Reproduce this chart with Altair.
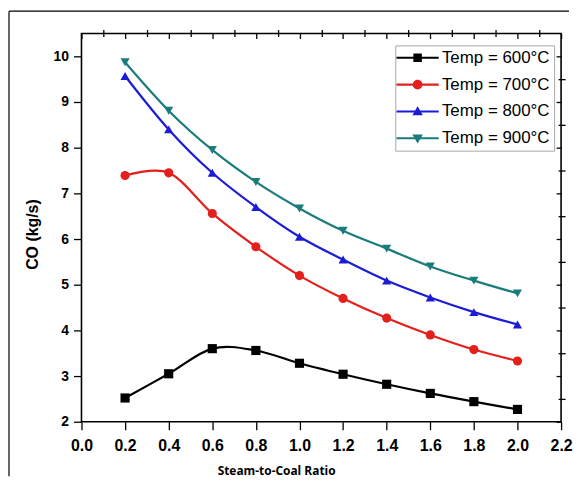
import altair as alt
import pandas as pd

ratio = [0.2, 0.4, 0.6, 0.8, 1.0, 1.2, 1.4, 1.6, 1.8, 2.0]
co_600 = [2.52, 3.05, 3.60, 3.56, 3.28, 3.04, 2.82, 2.62, 2.44, 2.27]
co_700 = [7.39, 7.45, 6.56, 5.83, 5.20, 4.70, 4.27, 3.90, 3.58, 3.33]
co_800 = [9.57, 8.40, 7.45, 6.70, 6.05, 5.55, 5.09, 4.72, 4.40, 4.13]
co_900 = [9.87, 8.81, 7.95, 7.25, 6.67, 6.18, 5.79, 5.40, 5.09, 4.81]
series = ["Temp = 600°C", "Temp = 700°C", "Temp = 800°C", "Temp = 900°C"]

x_major = [0.0, 0.2, 0.4, 0.6, 0.8, 1.0, 1.2, 1.4, 1.6, 1.8, 2.0, 2.2]
x_minor = [0.1, 0.3, 0.5, 0.7, 0.9, 1.1, 1.3, 1.5, 1.7, 1.9, 2.1]
y_major = [2, 3, 4, 5, 6, 7, 8, 9, 10]
y_minor = [2.5, 3.5, 4.5, 5.5, 6.5, 7.5, 8.5, 9.5]

rows = []
for name, vals in zip(series, [co_600, co_700, co_800, co_900]):
    for r, v in zip(ratio, vals):
        rows.append({"ratio": r, "co": v, "series": name})
df = pd.DataFrame(rows)

FONT = "Liberation Sans"
W, H = 483, 391
COLORS = ["#000000", "#e3201b", "#1c1cd6", "#1b7c7c"]
xscale = alt.Scale(domain=[0, 2.2], nice=False, zero=False)
yscale = alt.Scale(domain=[2, 10.5], nice=False, zero=False)
color_scale = alt.Scale(domain=series, range=COLORS)
shape_scale = alt.Scale(domain=series, range=["square", "circle", "triangle-up", "triangle-down"])

# legend symbols: a short line with the series marker on it
sym_paths = [
    "M-2.5,-0.12H2.5V0.12H-2.5ZM-0.5,-0.5H0.5V0.5H-0.5Z",
    "M-2.5,-0.12H2.5V0.12H-2.5ZM-0.58,0A0.58,0.58 0 1,1 0.58,0A0.58,0.58 0 1,1 -0.58,0Z",
    "M-2.5,-0.12H2.5V0.12H-2.5ZM0,-0.62L0.62,0.45L-0.62,0.45Z",
    "M-2.5,-0.12H2.5V0.12H-2.5ZM0,0.62L-0.62,-0.45L0.62,-0.45Z",
]
legend_shape_scale = alt.Scale(domain=series, range=sym_paths)

tick_style = dict(grid=False, domain=False, tickColor="black", tickWidth=1.3)

x_bottom = alt.Axis(values=x_major, format=".1f", title="Steam-to-Coal Ratio", tickSize=8,
                    labelFont=FONT, labelFontSize=16, labelFontWeight="bold", labelColor="black",
                    labelPadding=8, labelFlush=False, titleFont="Open Sans", titleFontSize=12,
                    titleFontWeight="bold", titleColor="black", titleX=196, titleY=49,
                    titleBaseline="middle", titleAlign="center", **tick_style)
x_bottom_minor = alt.Axis(values=x_minor, labels=False, title=None, tickSize=4, **tick_style)
x_top = alt.Axis(orient="top", values=x_major, labels=False, title=None, tickSize=5, offset=-5,
                 **tick_style)
x_top_minor = alt.Axis(orient="top", values=x_minor, labels=False, title=None, tickSize=3, offset=-3,
                       **tick_style)

y_left = alt.Axis(values=y_major, format="d", title="CO (kg/s)", tickSize=8,
                  labelFont=FONT, labelFontSize=14, labelFontWeight="bold", labelColor="black",
                  labelPadding=5, labelFlush=False, titleFont=FONT, titleFontSize=16,
                  titleFontWeight="bold", titleColor="black", titlePadding=13, titleY=202,
                  **tick_style)
y_left_minor = alt.Axis(values=y_minor, labels=False, title=None, tickSize=4, **tick_style)
y_right = alt.Axis(orient="right", values=y_major, labels=False, title=None, tickSize=5, offset=-5,
                   **tick_style)
y_right_minor = alt.Axis(orient="right", values=y_minor, labels=False, title=None, tickSize=3, offset=-3,
                         **tick_style)

legend = alt.Legend(title=None, orient="none", legendX=316, legendY=12, strokeColor="#a8a8a8",
                    fillColor="white", padding=4, labelFont=FONT, labelFontSize=17,
                    labelColor="black", symbolSize=289, symbolStrokeWidth=0, symbolOpacity=1,
                    rowPadding=9, symbolOffset=10, labelOffset=16)

base = alt.Chart(df)

lines = base.mark_line(interpolate="cardinal", strokeWidth=2.2).encode(
    x=alt.X("ratio:Q", scale=xscale, axis=x_bottom),
    y=alt.Y("co:Q", scale=yscale, axis=y_left),
    color=alt.Color("series:N", scale=color_scale, legend=None),
    detail="series:N",
)

points = base.mark_point(filled=True, size=85, opacity=1).encode(
    x=alt.X("ratio:Q", scale=xscale, axis=x_bottom_minor),
    y=alt.Y("co:Q", scale=yscale, axis=y_left_minor),
    color=alt.Color("series:N", scale=color_scale, legend=None),
    shape=alt.Shape("series:N", scale=shape_scale, legend=None),
)

top = base.mark_point(opacity=0).encode(
    x=alt.X("ratio:Q", scale=xscale, axis=x_top),
    y=alt.Y("co:Q", scale=yscale, axis=y_right),
)
top_minor = base.mark_point(opacity=0).encode(
    x=alt.X("ratio:Q", scale=xscale, axis=x_top_minor),
    y=alt.Y("co:Q", scale=yscale, axis=y_right_minor),
)

# empty layer that only carries the legend (line + marker symbols)
legend_layer = base.transform_filter("datum.co < 0").mark_point(filled=True, opacity=1).encode(
    x=alt.X("ratio:Q", scale=xscale, axis=None),
    y=alt.Y("co:Q", scale=yscale, axis=None),
    color=alt.Color("series:N", scale=alt.Scale(domain=series, range=COLORS), legend=legend),
    shape=alt.Shape("series:N", scale=legend_shape_scale, legend=legend),
)

one = alt.Chart(pd.DataFrame({"k": [0]}))
plot_frame = one.mark_rect(filled=False, stroke="black", strokeWidth=1.6).encode(
    x=alt.value(0), x2=alt.value("width"), y=alt.value(0), y2=alt.value("height"),
)
outer_left = one.mark_rule(stroke="black", strokeWidth=1.2).encode(
    x=alt.value(-73), y=alt.value(-22.5), y2=alt.value(H + 55),
)
outer_top = one.mark_rule(stroke="black", strokeWidth=1.2).encode(
    x=alt.value(-73), x2=alt.value(W + 8), y=alt.value(-22.5),
)

chart = alt.layer(
    lines, points, top, top_minor, legend_layer, plot_frame, outer_left, outer_top
).resolve_axis(
    x="independent", y="independent"
).resolve_scale(
    color="independent", shape="independent"
).properties(
    width=W, height=H,
    padding={"left": 0, "top": 0, "right": 0, "bottom": 0},
).configure_view(stroke=None)

chart.save("out.html", embed_options={"renderer": "svg", "actions": False})
